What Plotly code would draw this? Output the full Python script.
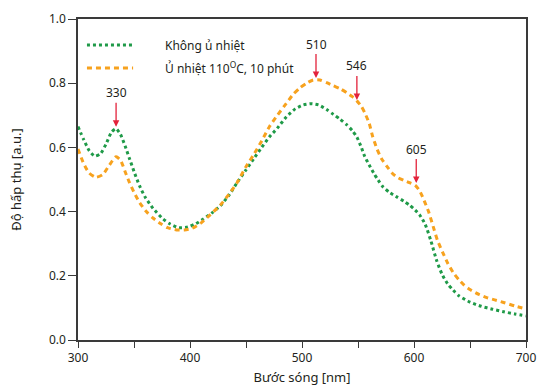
import plotly.graph_objects as go

# ---------------- data ----------------
wl_green = [300, 305, 310, 315, 320, 325, 330, 334, 338, 342, 346, 350, 355, 360, 367, 375, 382, 390,
            398, 405, 412, 420, 427, 435, 442, 450, 457, 464, 471, 478, 486, 494, 501, 508, 515, 522,
            528, 534, 540, 545, 549, 553, 556, 560, 564, 568, 572, 578, 585, 591, 596, 601, 605, 610,
            615, 620, 625, 630, 635, 640, 650, 660, 670, 680, 690, 700]
abs_green = [0.665, 0.625, 0.59, 0.573, 0.58, 0.61, 0.648, 0.658, 0.64, 0.605, 0.565, 0.525, 0.48, 0.445,
             0.41, 0.38, 0.362, 0.35, 0.352, 0.362, 0.377, 0.397, 0.418, 0.452, 0.49, 0.53, 0.565, 0.6,
             0.633, 0.66, 0.695, 0.72, 0.732, 0.736, 0.732, 0.718, 0.703, 0.688, 0.67, 0.652, 0.632, 0.6,
             0.572, 0.545, 0.52, 0.498, 0.478, 0.46, 0.445, 0.432, 0.42, 0.405, 0.39, 0.36, 0.31, 0.25,
             0.205, 0.175, 0.155, 0.138, 0.118, 0.105, 0.096, 0.088, 0.081, 0.075]

wl_orange = [300, 305, 310, 316, 322, 328, 334, 338, 342, 346, 350, 355, 361, 367, 374, 380, 388, 395,
             402, 410, 418, 427, 435, 442, 450, 457, 464, 471, 478, 486, 492, 498, 504, 510, 516, 522,
             528, 534, 540, 545, 549, 553, 556, 560, 563, 567, 571, 576, 581, 586, 591, 596, 601, 605,
             609, 613, 617, 621, 626, 630, 635, 640, 645, 650, 658, 665, 672, 680, 690, 700]
abs_orange = [0.595, 0.55, 0.52, 0.507, 0.515, 0.545, 0.571, 0.56, 0.525, 0.49, 0.46, 0.428, 0.4, 0.38,
              0.362, 0.35, 0.343, 0.343, 0.348, 0.365, 0.39, 0.42, 0.455, 0.49, 0.54, 0.578, 0.62, 0.665,
              0.7, 0.737, 0.765, 0.785, 0.8, 0.81, 0.81, 0.802, 0.792, 0.783, 0.77, 0.758, 0.745, 0.728,
              0.708, 0.675, 0.635, 0.595, 0.565, 0.54, 0.518, 0.505, 0.497, 0.49, 0.482, 0.465, 0.435,
              0.4, 0.355, 0.31, 0.27, 0.24, 0.21, 0.188, 0.17, 0.157, 0.142, 0.132, 0.125, 0.117, 0.106,
              0.097]

series_names = ["Không ủ nhiệt", "Ủ nhiệt 110<sup>O</sup>C, 10 phút"]

peak_labels = ["330", "510", "546", "605"]
peak_x = [334, 512.5, 549, 602]
peak_y = [0.664, 0.816, 0.748, 0.489]

x_ticks = [300, 400, 500, 600, 700]
y_ticks = [0.0, 0.2, 0.4, 0.6, 0.8, 1.0]

# ---------------- style ----------------
GREEN = "#1f9a48"
ORANGE = "#f7a21e"
RED = "#e3223b"
TXT = "#231f20"
AX = "#3a3a3a"
FONT = "Noto Sans"

fig = go.Figure()
fig.add_trace(go.Scatter(x=wl_green, y=abs_green, mode="lines", name=series_names[0],
                         line=dict(color=GREEN, width=3, dash="dot", shape="spline", smoothing=0.6),
                         showlegend=False))
fig.add_trace(go.Scatter(x=wl_orange, y=abs_orange, mode="lines", name=series_names[1],
                         line=dict(color=ORANGE, width=3, dash="5px,4px", shape="spline", smoothing=0.6),
                         showlegend=False))

# peak annotations
for lab, px, py in zip(peak_labels, peak_x, peak_y):
    fig.add_annotation(x=px, y=py, text=lab, showarrow=True, arrowhead=2, arrowsize=1,
                       arrowwidth=1.3, arrowcolor=RED, ax=0, ay=-34,
                       font=dict(family=FONT, size=12, color=TXT))

# manual legend
leg_y = [0.919, 0.847]
leg_col = [GREEN, ORANGE]
leg_dash = ["dot", "5px,4px"]
for name, yy, c, d in zip(series_names, leg_y, leg_col, leg_dash):
    fig.add_shape(type="line", xref="paper", yref="paper", x0=0.020, x1=0.123, y0=yy, y1=yy,
                  line=dict(color=c, width=3, dash=d))
    fig.add_annotation(xref="paper", yref="paper", x=0.190, y=yy, text=name, showarrow=False,
                       xanchor="left", yanchor="middle",
                       font=dict(family=FONT, size=12, color=TXT))

fig.update_layout(
    width=540, height=388,
    margin=dict(l=78, r=14, t=19, b=48, autoexpand=False),
    paper_bgcolor="white", plot_bgcolor="white",
    font=dict(family=FONT, size=12, color=TXT),
    showlegend=False,
)
fig.update_xaxes(range=[300, 700], tickvals=x_ticks, ticks="outside", ticklen=6, tickwidth=1.2,
                 tickcolor=AX, showline=True, linecolor=AX, linewidth=1.5, mirror=True,
                 showgrid=False, zeroline=False, automargin=False,
                 minor=dict(dtick=50, tick0=300, ticks="outside", ticklen=6, tickwidth=1.2, tickcolor=AX),
                 title=dict(text="Bước sóng [nm]", standoff=8, font=dict(size=13)),
                 tickfont=dict(size=12))
fig.update_yaxes(range=[0, 1.0], tickvals=y_ticks, tickformat=".1f", ticks="outside", ticklen=8,
                 tickwidth=1.2, tickcolor=AX, showline=True, linecolor=AX, linewidth=1.5, mirror=True,
                 showgrid=False, zeroline=False, automargin=False,
                 title=dict(text="Độ hấp thụ [a.u.]", standoff=24, font=dict(size=13)),
                 tickfont=dict(size=12))

fig.write_html("out.html", config={"displayModeBar": False},
               post_script="document.body.style.margin='0';")
